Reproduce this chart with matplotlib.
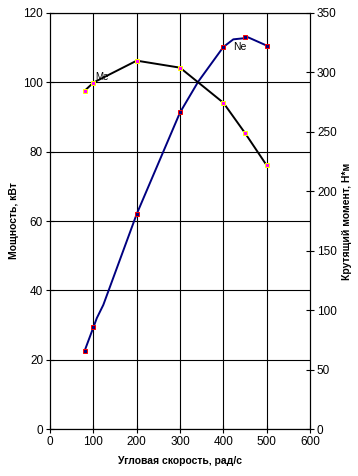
import matplotlib
matplotlib.use("Agg")
import matplotlib.pyplot as plt

plt.rcParams['font.family'] = ['Liberation Sans', 'DejaVu Sans']

# ====================== данные ======================
# Мощность Ne, кВт (левая ось) — точки с маркерами
ne_speed = [80, 100, 200, 300, 400, 450, 500]
ne_power = [22.6, 29.3, 62.0, 91.3, 110.2, 113.1, 110.6]
# линия Ne (с изломами)
ne_line_speed = [80, 100, 108, 123, 200, 300, 342, 400, 423, 446, 455, 500]
ne_line_power = [22.6, 29.3, 32.0, 35.8, 62.0, 91.3, 100.2, 110.2, 112.4, 112.7, 113.1, 110.6]

# Крутящий момент Me, Н*м (правая ось)
me_speed = [80, 100, 200, 300, 400, 450, 500]
me_torque = [284.6, 291.4, 309.9, 304.0, 274.5, 249.0, 221.8]

x_ticks = [0, 100, 200, 300, 400, 500, 600]
left_ticks = [0, 20, 40, 60, 80, 100, 120]
right_ticks = [0, 50, 100, 150, 200, 250, 300, 350]

fig = plt.figure(figsize=(3.58, 4.76), dpi=100)
ax = fig.add_axes([0.1397, 0.0987, 0.7263, 0.8740])
ax2 = ax.twinx()

# сетка
for v in left_ticks:
    ax.axhline(v, color='black', lw=0.8, zorder=0)
for v in x_ticks[1:-1]:
    ax.axvline(v, color='black', lw=0.8, zorder=0)

ax.plot(ne_line_speed, ne_line_power, color='#000080', lw=1.4, zorder=3)
ax.plot(ne_speed, ne_power, ls='none', marker='s', ms=2.6,
        mfc='#000080', mec='#ff0000', mew=0.7, zorder=4)
ax.text(423, 111.5, 'Ne', fontsize=7.5, va='top', ha='left', zorder=5)

ax2.plot(me_speed, me_torque, color='black', lw=1.4, zorder=3)
ax2.plot(me_speed, me_torque, ls='none', marker='s', ms=2.6,
         mfc='#ff00ff', mec='#ffff00', mew=0.7, zorder=4)
ax2.text(104, 296, 'Me', fontsize=7, va='center', ha='left', zorder=5)

ax.set_xlim(0, 600)
ax.set_ylim(0, 120)
ax2.set_ylim(0, 350)
ax.set_xticks(x_ticks)
ax.set_yticks(left_ticks)
ax2.set_yticks(right_ticks)

for a in (ax, ax2):
    a.tick_params(direction='inout', length=6, width=0.8, labelsize=8.5, pad=2)
    for s in a.spines.values():
        s.set_linewidth(0.8)
        s.set_color('black')

ax.set_xlabel('Угловая скорость, рад/с', fontsize=7.5, fontweight='bold', labelpad=6)
ax.set_ylabel('Мощность, кВт', fontsize=7.5, fontweight='bold', labelpad=3)
ax2.set_ylabel('Крутящий момент, Н*м', fontsize=7.5, fontweight='bold', labelpad=4)

fig.savefig('out.png', dpi=100)
